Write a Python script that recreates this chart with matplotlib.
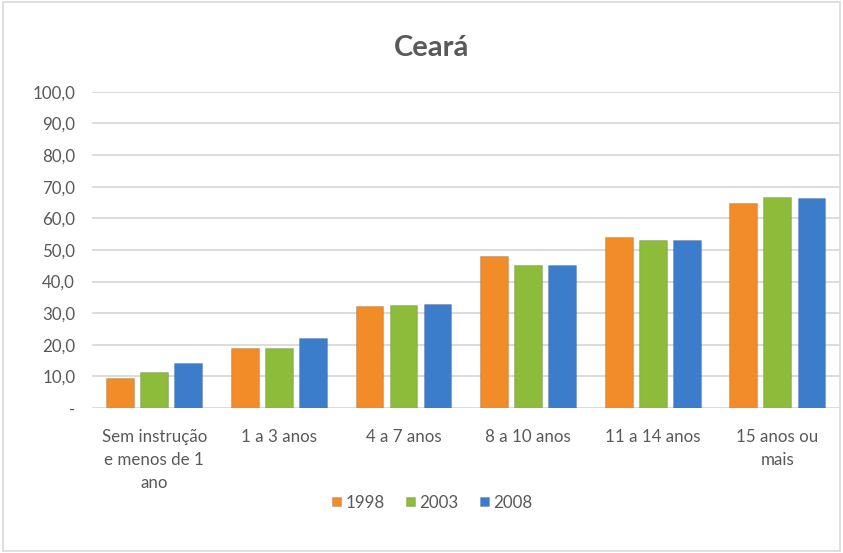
import matplotlib.pyplot as plt
import numpy as np
from matplotlib.patches import Rectangle

categories = ["Sem instrução\ne menos de 1\nano", "1 a 3 anos", "4 a 7 anos",
              "8 a 10 anos", "11 a 14 anos", "15 anos ou\nmais"]
years = ["1998", "2003", "2008"]
v1998 = [9.6, 18.9, 32.3, 48.1, 54.0, 64.8]
v2003 = [11.5, 18.9, 32.6, 45.3, 53.1, 66.7]
v2008 = [14.3, 22.2, 32.9, 45.3, 53.1, 66.4]
yticks = [0, 10, 20, 30, 40, 50, 60, 70, 80, 90, 100]
ytick_labels = ["-", "10,0", "20,0", "30,0", "40,0", "50,0", "60,0",
                "70,0", "80,0", "90,0", "100,0"]

COLORS = ["#F28C28", "#8DBB3A", "#3B7DCB"]
TEXT = "#595959"

plt.rcParams["font.family"] = ["Lato", "DejaVu Sans"]

fig = plt.figure(figsize=(8.43, 5.53), dpi=100)
fig.patches.append(Rectangle((0.003, 0.003), 0.994, 0.994, transform=fig.transFigure,
                             fill=False, edgecolor="#D9D9D9", linewidth=1.2))
ax = fig.add_axes([0.109, 0.262, 0.887, 0.572])

x = np.arange(len(categories))
width = 0.222
step = 0.273
for i, (vals, c, lab) in enumerate(zip([v1998, v2003, v2008], COLORS, years)):
    ax.bar(x + (i - 1) * step, vals, width, color=c, label=lab,
           edgecolor="#00000022", linewidth=0.8, zorder=3)

ax.set_xlim(-0.5, len(categories) - 0.5)
ax.set_ylim(0, 100)
ax.set_yticks(yticks)
ax.set_yticklabels(ytick_labels)
ax.set_xticks(x)
ax.set_xticklabels(categories, linespacing=1.55)
ax.tick_params(axis="both", length=0, colors=TEXT, labelsize=12.2)
ax.tick_params(axis="x", pad=15)
ax.tick_params(axis="y", pad=12)
ax.grid(axis="y", color="#D9D9D9", linewidth=1.3, zorder=0)
for s in ax.spines.values():
    s.set_visible(False)

fig.text(0.512, 0.913, "Ceará", ha="center", va="center", fontsize=21,
         fontweight="bold", color=TEXT)

leg = fig.legend(loc="center", bbox_to_anchor=(0.513, 0.091), ncol=3, frameon=False,
                 fontsize=12.2, handlelength=0.5, handleheight=0.5,
                 handletextpad=0.25, columnspacing=1.3)
for t in leg.get_texts():
    t.set_color(TEXT)

fig.savefig("out.png", dpi=100)
